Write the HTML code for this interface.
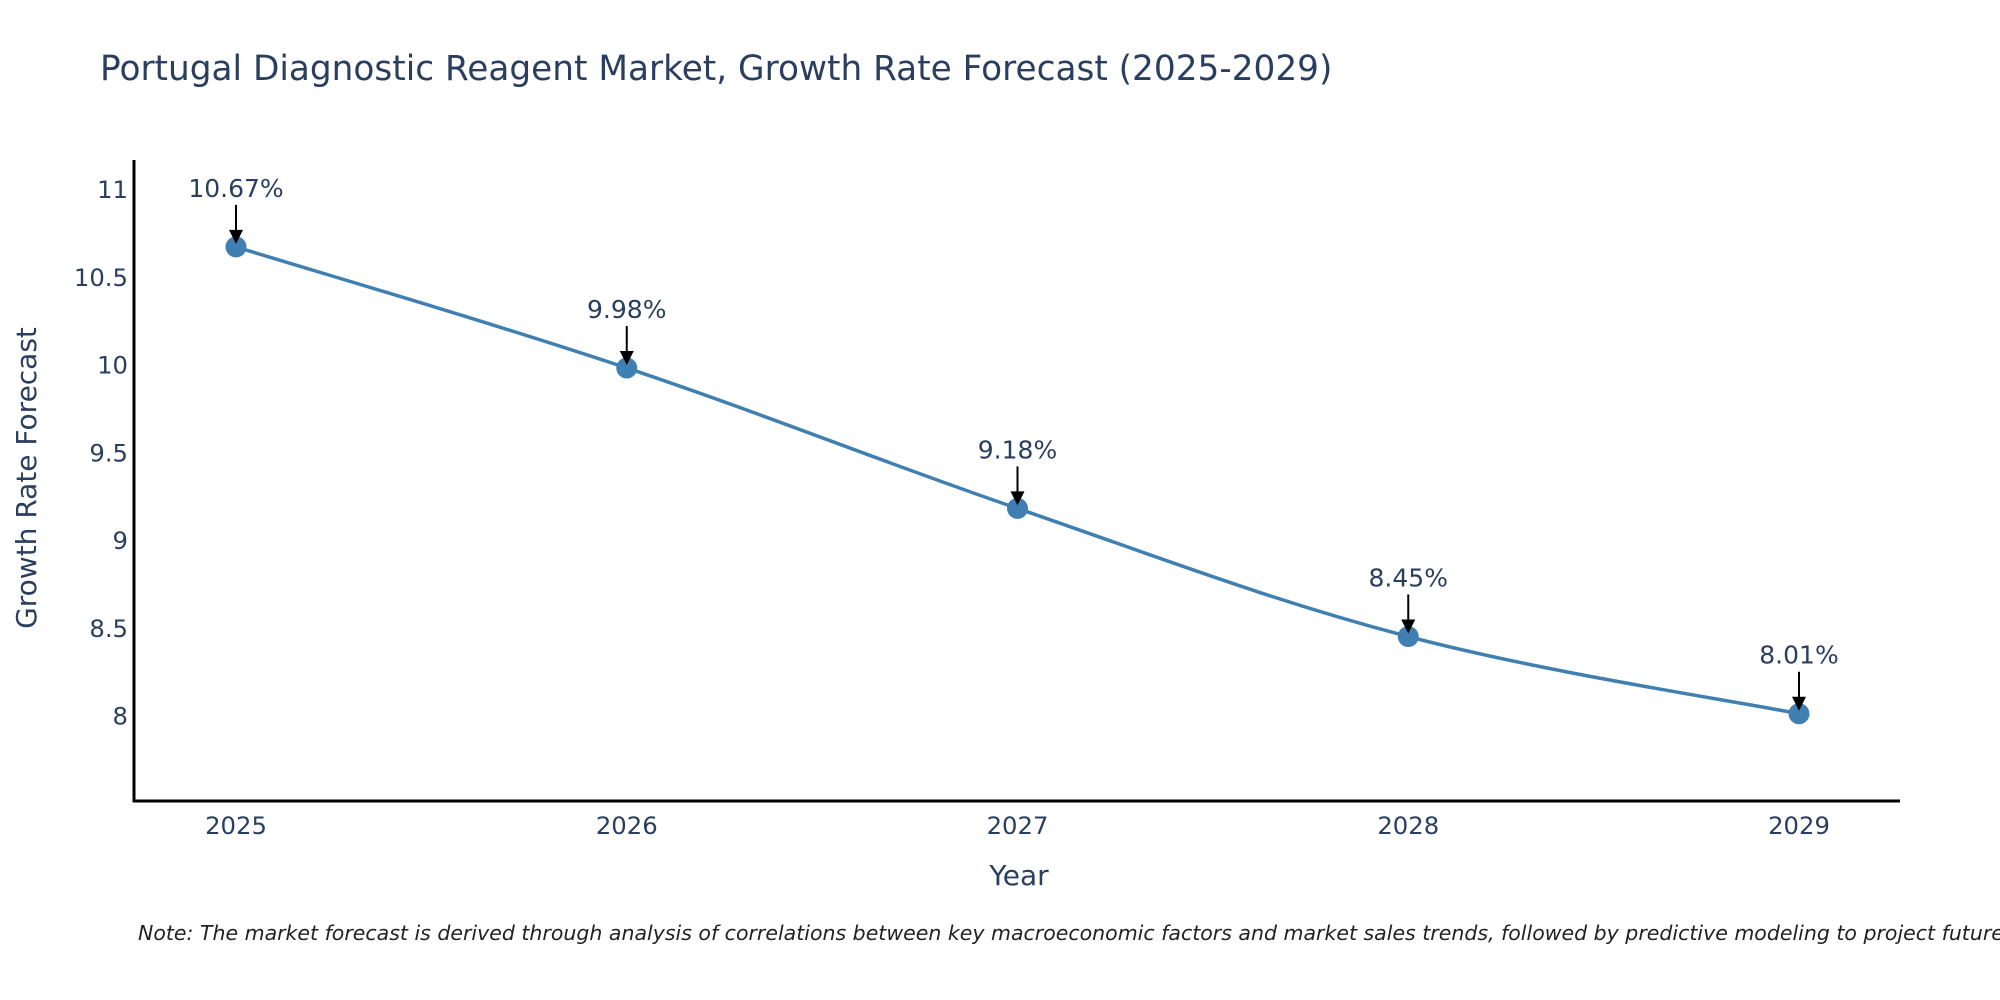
<!DOCTYPE html>
<html><head><meta charset="utf-8"><style>
html,body{margin:0;padding:0;background:#fff;width:2000px;height:1000px;overflow:hidden}
svg{display:block;font-family:"DejaVu Sans","Liberation Sans",sans-serif}
</style></head><body>
<svg id="chart" width="2000" height="1000" viewBox="0 0 2000 1000" xmlns="http://www.w3.org/2000/svg">
<text x="100" y="80" font-size="34.3" fill="#2a3f5f">Portugal Diagnostic Reagent Market, Growth Rate Forecast (2025-2029)</text>
<g id="yticks"></g>
<g id="xticks"></g>
<line x1="134" y1="160" x2="134" y2="802" stroke="#000" stroke-width="3"/>
<line x1="133" y1="801" x2="1900" y2="801" stroke="#000" stroke-width="3"/>
<text transform="translate(36,478) rotate(-90)" text-anchor="middle" font-size="28" fill="#2a3f5f">Growth Rate Forecast</text>
<text x="1019" y="885" text-anchor="middle" font-size="28" fill="#2a3f5f">Year</text>
<g id="series"></g>
<g id="annots"></g>
<text x="138" y="940" font-size="20.5" font-style="italic" fill="#222">Note: The market forecast is derived through analysis of correlations between key macroeconomic factors and market sales trends, followed by predictive modeling to project future sales.</text>
</svg>
<script>
const years = ["2025","2026","2027","2028","2029"];
const values = [10.67, 9.98, 9.18, 8.45, 8.01];
const yTickLabels = ["8","8.5","9","9.5","10","10.5","11"];
const yTickValues = [8, 8.5, 9, 9.5, 10, 10.5, 11];

const NS = "http://www.w3.org/2000/svg";
function xPos(i){ return 236 + i * (1799 - 236) / (years.length - 1); }
function yPos(v){ return 189 + (11 - v) * 175.5; }
function mk(tag, attrs, parent){ const e = document.createElementNS(NS, tag); for (const k in attrs) e.setAttribute(k, attrs[k]); parent.appendChild(e); return e; }

const yt = document.getElementById('yticks');
yTickValues.forEach((v, i) => {
  const t = mk('text', {x: 128, y: yPos(v) + 9, 'text-anchor': 'end', 'font-size': 24.3, fill: '#2a3f5f'}, yt);
  
  
  t.textContent = yTickLabels[i];
});
const xt = document.getElementById('xticks');
years.forEach((y, i) => {
  const t = mk('text', {x: xPos(i), y: 834, 'text-anchor': 'middle', 'font-size': 24.3, fill: '#2a3f5f'}, xt);
  
  
  t.textContent = y;
});

const pts = values.map((v, i) => [xPos(i), yPos(v)]);
let d = `M${pts[0][0]},${pts[0][1]}`;
const s = 0.18;
for (let i = 0; i < pts.length - 1; i++) {
  const p0 = pts[Math.max(i - 1, 0)], p1 = pts[i], p2 = pts[i + 1], p3 = pts[Math.min(i + 2, pts.length - 1)];
  const c1 = [p1[0] + (p2[0] - p0[0]) * s, p1[1] + (p2[1] - p0[1]) * s];
  const c2 = [p2[0] - (p3[0] - p1[0]) * s, p2[1] - (p3[1] - p1[1]) * s];
  d += ` C${c1[0]},${c1[1]} ${c2[0]},${c2[1]} ${p2[0]},${p2[1]}`;
}
const ser = document.getElementById('series');
const line = mk('path', {d: d, fill: 'none', stroke: '#3f7fb1', 'stroke-width': 3.5}, ser);


pts.forEach(p => {
  const c = mk('circle', {cx: p[0], cy: p[1], r: 10.5, fill: '#3f7fb1'}, ser);
  
  
});

const an = document.getElementById('annots');
pts.forEach((p, i) => {
  const l = mk('line', {x1: p[0], y1: p[1] - 42, x2: p[0], y2: p[1] - 14, stroke: '#000', 'stroke-width': 2}, an);
  
  
  const h = mk('polygon', {points: `${p[0]-7},${p[1]-17} ${p[0]+7},${p[1]-17} ${p[0]},${p[1]-3}`, fill: '#000'}, an);
  
  
  const t = mk('text', {x: p[0], y: p[1] - 50, 'text-anchor': 'middle', 'font-size': 25, fill: '#2a3f5f'}, an);
  
  
  t.textContent = values[i].toFixed(2) + '%';
});
</script>
</body></html>
